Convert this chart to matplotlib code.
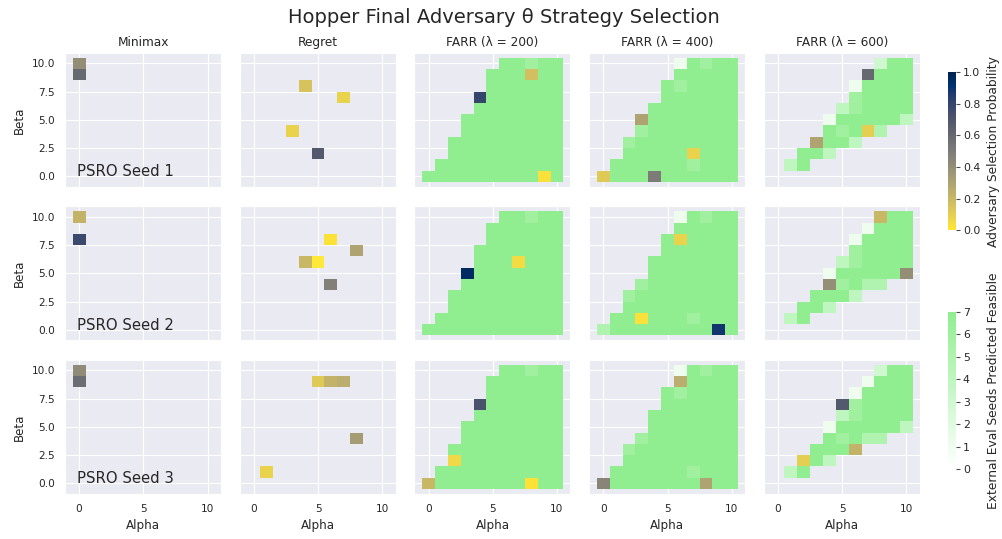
import numpy as np
import matplotlib.pyplot as plt
import seaborn as sns
from matplotlib.colors import LinearSegmentedColormap

sns.set_style("darkgrid")
plt.rcParams['font.family'] = ['DejaVu Sans']

alpha_vals = np.arange(11)
beta_vals = np.arange(11)

methods = ["Minimax", "Regret", "FARR (λ = 200)", "FARR (λ = 400)", "FARR (λ = 600)"]
seeds = ["PSRO Seed 1", "PSRO Seed 2", "PSRO Seed 3"]

# external eval seeds predicted feasible, first row is beta = 0 (0 = nothing drawn)
feasible_200 = [
    [7, 7, 7, 7, 7, 7, 7, 7, 7, 7, 7],
    [0, 7, 7, 7, 7, 7, 7, 7, 7, 7, 7],
    [0, 0, 7, 7, 7, 7, 7, 7, 7, 7, 7],
    [0, 0, 7, 7, 7, 7, 7, 7, 7, 7, 7],
    [0, 0, 0, 7, 7, 7, 7, 7, 7, 7, 7],
    [0, 0, 0, 7, 7, 7, 7, 7, 7, 7, 7],
    [0, 0, 0, 0, 7, 7, 7, 7, 7, 7, 7],
    [0, 0, 0, 0, 7, 7, 7, 7, 7, 7, 7],
    [0, 0, 0, 0, 0, 7, 7, 7, 7, 7, 7],
    [0, 0, 0, 0, 0, 7, 7, 7, 7, 7, 7],
    [0, 0, 0, 0, 0, 0, 7, 7, 6, 7, 7],
]
feasible_400 = [
    [5, 7, 7, 7, 7, 7, 7, 7, 7, 7, 7],
    [0, 7, 7, 7, 7, 7, 7, 6, 7, 7, 7],
    [0, 0, 7, 7, 7, 7, 7, 7, 7, 7, 7],
    [0, 0, 6, 7, 7, 7, 7, 7, 7, 7, 7],
    [0, 0, 0, 6, 7, 7, 7, 7, 7, 7, 7],
    [0, 0, 0, 0, 7, 7, 7, 7, 7, 7, 7],
    [0, 0, 0, 0, 7, 7, 7, 7, 7, 7, 7],
    [0, 0, 0, 0, 0, 7, 7, 7, 7, 7, 7],
    [0, 0, 0, 0, 0, 7, 6, 7, 7, 7, 7],
    [0, 0, 0, 0, 0, 0, 7, 7, 7, 7, 7],
    [0, 0, 0, 0, 0, 0, 1, 7, 6, 7, 7],
]
feasible_600 = [
    [0, 0, 0, 0, 0, 0, 0, 0, 0, 0, 0],
    [0, 4, 7, 0, 0, 0, 0, 0, 0, 0, 0],
    [0, 0, 7, 7, 4, 0, 0, 0, 0, 0, 0],
    [0, 0, 0, 7, 7, 7, 4, 0, 0, 0, 0],
    [0, 0, 0, 0, 7, 6, 7, 5, 5, 0, 0],
    [0, 0, 0, 0, 1, 7, 7, 7, 7, 7, 4],
    [0, 0, 0, 0, 0, 4, 6, 7, 7, 7, 7],
    [0, 0, 0, 0, 0, 0, 6, 7, 7, 7, 7],
    [0, 0, 0, 0, 0, 0, 1, 7, 7, 7, 7],
    [0, 0, 0, 0, 0, 0, 0, 1, 7, 7, 7],
    [0, 0, 0, 0, 0, 0, 0, 0, 3, 7, 7],
]

# adversary picks per PSRO seed: (alpha, beta, probability)
minimax_picks = [
    [(0, 10, 0.40), (0, 9, 0.60)],
    [(0, 10, 0.22), (0, 8, 0.78)],
    [(0, 10, 0.42), (0, 9, 0.58)],
]
regret_picks = [
    [(4, 8, 0.15), (7, 7, 0.08), (3, 4, 0.08), (5, 2, 0.69)],
    [(6, 8, 0.02), (8, 7, 0.30), (4, 6, 0.20), (5, 6, 0.00), (6, 4, 0.48)],
    [(5, 9, 0.12), (6, 9, 0.22), (7, 9, 0.25), (8, 4, 0.33), (1, 1, 0.08)],
]
farr200_picks = [
    [(4, 7, 0.80), (8, 9, 0.17), (9, 0, 0.03)],
    [(3, 5, 0.95), (7, 6, 0.05)],
    [(0, 0, 0.20), (2, 2, 0.06), (4, 7, 0.72), (8, 0, 0.02)],
]
farr400_picks = [
    [(0, 0, 0.12), (4, 0, 0.50), (7, 2, 0.08), (3, 5, 0.30)],
    [(6, 8, 0.08), (3, 1, 0.03), (9, 0, 0.89)],
    [(6, 9, 0.25), (0, 0, 0.45), (8, 0, 0.30)],
]
farr600_picks = [
    [(7, 9, 0.60), (7, 4, 0.10), (3, 3, 0.30)],
    [(8, 10, 0.20), (10, 5, 0.40), (4, 4, 0.40)],
    [(5, 7, 0.68), (6, 3, 0.22), (2, 2, 0.10)],
]

all_picks = [minimax_picks, regret_picks, farr200_picks, farr400_picks, farr600_picks]
all_feasible = [None, None, feasible_200, feasible_400, feasible_600]

green_cmap = LinearSegmentedColormap.from_list("feas", ["white", "lightgreen"])
adv_cmap = plt.get_cmap("cividis_r")

x_edges = np.append(alpha_vals - 0.5, alpha_vals[-1] + 0.5)
y_edges = np.append(beta_vals - 0.5, beta_vals[-1] + 0.5)

fig, axes = plt.subplots(3, 5, figsize=(10.03, 5.39), dpi=100, sharex=True, sharey=True)
fig.subplots_adjust(left=0.0648, right=0.9172, bottom=0.0835, top=0.9022,
                    wspace=0.12, hspace=0.144)

green_mesh = None
adv_mesh = None
for c in range(5):
    for r in range(3):
        ax = axes[r, c]
        if all_feasible[c] is not None:
            g = np.ma.masked_equal(np.array(all_feasible[c], dtype=float), 0)
            green_mesh = ax.pcolormesh(x_edges, y_edges, g, cmap=green_cmap, vmin=0, vmax=7)
        adv = np.full((len(beta_vals), len(alpha_vals)), np.nan)
        for a, b, p in all_picks[c][r]:
            adv[b, a] = p
        adv_mesh = ax.pcolormesh(x_edges, y_edges, np.ma.masked_invalid(adv),
                                 cmap=adv_cmap, vmin=0, vmax=1)
        ax.set_xlim(-1.1, 11.05)
        ax.set_ylim(-0.95, 10.95)
        ax.set_xticks([0, 5, 10])
        ax.set_yticks([0, 2.5, 5, 7.5, 10])
        ax.tick_params(length=0, pad=7, labelsize=7.6, labelcolor='.15')
        if r == 0:
            ax.set_title(methods[c], fontsize=8.7, color='.15', pad=5)
        if r == 2:
            ax.set_xlabel("Alpha", fontsize=8.6, color='.15', labelpad=4)
        if c == 0:
            ax.set_ylabel("Beta", fontsize=8.6, color='.15')
            ax.yaxis.set_major_formatter(plt.FormatStrFormatter('%.1f'))
            ax.text(0.08, 0.115, seeds[r], transform=ax.transAxes, fontsize=10.7,
                    color='.15', ha='left', va='center')

fig.suptitle("Hopper Final Adversary θ Strategy Selection", fontsize=14, color='.15',
             x=0.502, y=0.968, va='center')

cax1 = fig.add_axes([0.945, 0.573, 0.008, 0.293])
cb1 = fig.colorbar(adv_mesh, cax=cax1, ticks=[0, 0.2, 0.4, 0.6, 0.8, 1.0])
cb1.set_label("Adversary Selection Probability", fontsize=8.8, color='.15')

cax2 = fig.add_axes([0.945, 0.130, 0.008, 0.291])
cb2 = fig.colorbar(green_mesh, cax=cax2, ticks=range(8))
cb2.set_label("External Eval Seeds Predicted Feasible", fontsize=8.8, color='.15')

for cb in (cb1, cb2):
    cb.outline.set_visible(False)
    cb.ax.grid(False)
    cb.ax.tick_params(length=3, width=0.8, color='.3', pad=2, labelsize=7.8, labelcolor='.15')
    cb.ax.yaxis.set_label_coords(4.9, 0.5)
cb1.ax.yaxis.set_major_formatter(plt.FormatStrFormatter('%.1f'))

fig.savefig("out.png", dpi=100)
